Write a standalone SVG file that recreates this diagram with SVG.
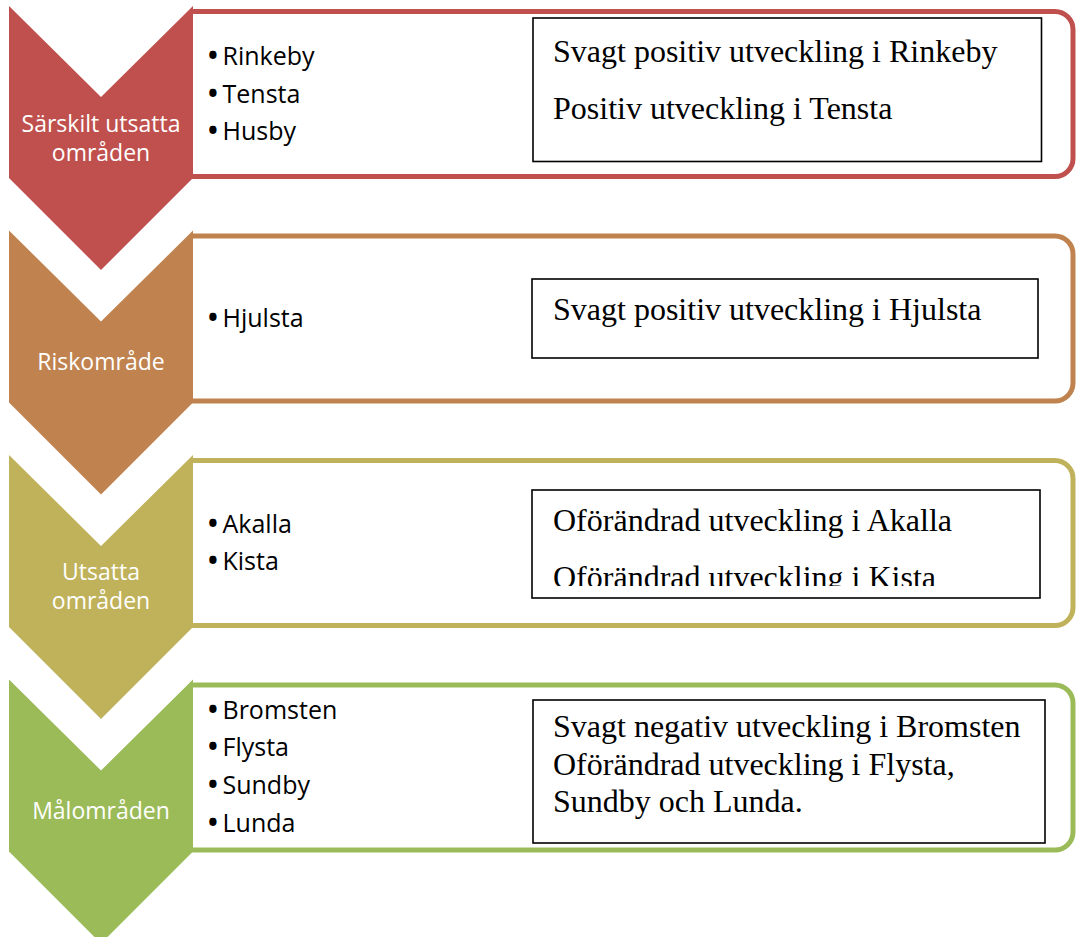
<svg xmlns="http://www.w3.org/2000/svg" width="1076" height="937" viewBox="0 0 1076 937">
  <defs>
    <style>
      .panel { fill: #FFFFFF; stroke-width: 5; }
      .chev-label { font-family: "Open Sans", "Noto Sans", sans-serif; font-size: 23px; fill: #FFFFFF; text-anchor: middle; }
      .bullet { font-family: "Open Sans", "Noto Sans", sans-serif; font-size: 25px; fill: #000000; }
      .dot { font-size: 26px; font-weight: bold; }
      .note { fill: #FFFFFF; stroke: #000000; stroke-width: 1.6; }
      .note-text { font-family: "Liberation Serif", "Times New Roman", serif; font-size: 32px; fill: #000000; }
    </style>
    <clipPath id="clip3">
      <rect x="532" y="490" width="508" height="96"/>
    </clipPath>
  </defs>
  <rect x="0" y="0" width="1076" height="937" fill="#FFFFFF"/>

  <g id="connectors"></g>

  <g id="row1">
    <path class="panel" stroke="#C0504D" d="M190,11.5 H1055 A18,18 0 0 1 1073,29.5 V158.5 A18,18 0 0 1 1055,176.5 H190"/>
    <path fill="#C0504D" d="M9,6 L101,97 L193,6 V178 L101,270 L9,178 Z"/>
    <text class="chev-label" x="101" y="131.5">Särskilt utsatta</text>
    <text class="chev-label" x="101" y="161">områden</text>
    <text class="bullet" x="208" y="65"><tspan class="dot">•</tspan><tspan x="222.5">Rinkeby</tspan></text>
    <text class="bullet" x="208" y="102.5"><tspan class="dot">•</tspan><tspan x="222.5">Tensta</tspan></text>
    <text class="bullet" x="208" y="140"><tspan class="dot">•</tspan><tspan x="222.5">Husby</tspan></text>
    <rect class="note" x="533" y="18" width="508.5" height="143.5"/>
    <text class="note-text" x="553" y="62">Svagt positiv utveckling i Rinkeby</text>
    <text class="note-text" x="553" y="119">Positiv utveckling i Tensta</text>
  </g>

  <g id="row2">
    <path class="panel" stroke="#C0834F" d="M190,236 H1055 A18,18 0 0 1 1073,254 V383 A18,18 0 0 1 1055,401 H190"/>
    <path fill="#C0834F" d="M9,230.5 L101,321.5 L193,230.5 V402.5 L101,494.5 L9,402.5 Z"/>
    <text class="chev-label" x="101" y="370">Riskområde</text>
    <text class="bullet" x="208" y="327"><tspan class="dot">•</tspan><tspan x="222.5">Hjulsta</tspan></text>
    <rect class="note" x="532" y="279" width="506" height="79"/>
    <text class="note-text" x="553" y="320">Svagt positiv utveckling i Hjulsta</text>
  </g>

  <g id="row3">
    <path class="panel" stroke="#BFB25A" d="M190,460.5 H1055 A18,18 0 0 1 1073,478.5 V607.5 A18,18 0 0 1 1055,625.5 H190"/>
    <path fill="#BFB25A" d="M9,455 L101,546 L193,455 V627 L101,719 L9,627 Z"/>
    <text class="chev-label" x="101" y="580">Utsatta</text>
    <text class="chev-label" x="101" y="609">områden</text>
    <text class="bullet" x="208" y="532.5"><tspan class="dot">•</tspan><tspan x="222.5">Akalla</tspan></text>
    <text class="bullet" x="208" y="569.5"><tspan class="dot">•</tspan><tspan x="222.5">Kista</tspan></text>
    <rect class="note" x="532" y="490" width="508" height="108"/>
    <g clip-path="url(#clip3)">
      <text class="note-text" x="553" y="531">Oförändrad utveckling i Akalla</text>
      <text class="note-text" x="553" y="588">Oförändrad utveckling i Kista</text>
    </g>
  </g>

  <g id="row4">
    <path class="panel" stroke="#9BBB59" d="M190,685 H1055 A18,18 0 0 1 1073,703 V832 A18,18 0 0 1 1055,850 H190"/>
    <path fill="#9BBB59" d="M9,679.5 L101,770.5 L193,679.5 V851.5 L101,943.5 L9,851.5 Z"/>
    <text class="chev-label" x="101" y="819">Målområden</text>
    <text class="bullet" x="208" y="718.5"><tspan class="dot">•</tspan><tspan x="222.5">Bromsten</tspan></text>
    <text class="bullet" x="208" y="756"><tspan class="dot">•</tspan><tspan x="222.5">Flysta</tspan></text>
    <text class="bullet" x="208" y="793.5"><tspan class="dot">•</tspan><tspan x="222.5">Sundby</tspan></text>
    <text class="bullet" x="208" y="831.5"><tspan class="dot">•</tspan><tspan x="222.5">Lunda</tspan></text>
    <rect class="note" x="533" y="700" width="512" height="143"/>
    <text class="note-text" x="553" y="737">Svagt negativ utveckling i Bromsten</text>
    <text class="note-text" x="553" y="775">Oförändrad utveckling i Flysta,</text>
    <text class="note-text" x="553" y="812">Sundby och Lunda.</text>
  </g>
</svg>
